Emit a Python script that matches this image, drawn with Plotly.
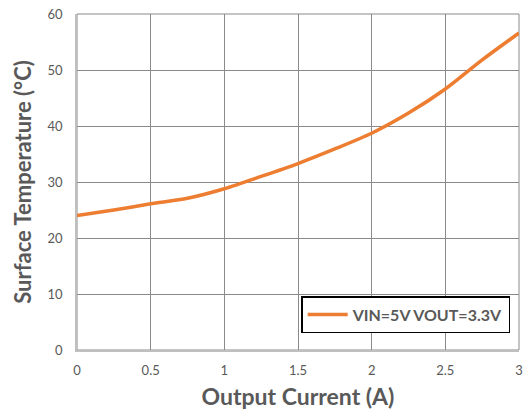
import plotly.graph_objects as go

# Surface temperature vs. output current, VIN=5V VOUT=3.3V
current_a = [0, 0.25, 0.5, 0.75, 1.0, 1.25, 1.5, 1.75, 2.0, 2.25, 2.5, 2.75, 3.0]
temp_c = [24.0, 25.0, 26.1, 27.1, 28.8, 31.0, 33.3, 35.9, 38.7, 42.3, 46.6, 51.8, 56.6]
series_name = "VIN=5V VOUT=3.3V"

x_ticks = [0, 0.5, 1, 1.5, 2, 2.5, 3]
x_tick_text = ["0", "0.5", "1", "1.5", "2", "2.5", "3"]
y_ticks = [0, 10, 20, 30, 40, 50, 60]

font_family = "Lato, 'Open Sans', sans-serif"
text_color = "#595959"
grid_color = "#8a8a8a"

fig = go.Figure()
fig.add_trace(go.Scatter(
    x=current_a, y=temp_c, mode="lines", name=series_name,
    line=dict(color="#ED7D31", width=3.5, shape="spline", smoothing=0.8),
))

fig.update_layout(
    width=529, height=420,
    margin=dict(l=77, r=6, t=14, b=70),
    paper_bgcolor="white", plot_bgcolor="white",
    font=dict(family=font_family, color=text_color),
    showlegend=True,
    legend=dict(
        x=0.98, y=0.05, xanchor="right", yanchor="bottom",
        bgcolor="white", bordercolor="black", borderwidth=1.5,
        font=dict(size=16, color=text_color, family=font_family, weight="bold"),
        itemwidth=40,
    ),
    xaxis=dict(
        range=[0, 3], tickvals=x_ticks, ticktext=x_tick_text,
        showgrid=True, gridcolor=grid_color, gridwidth=1,
        showline=True, linecolor="#bfbfbf", linewidth=1.5, mirror=False,
        zeroline=False, ticks="", ticklabelstandoff=8,
        tickfont=dict(size=13, color=text_color),
        title=dict(text="Output Current (A)", standoff=12,
                   font=dict(size=23, color=text_color, weight="bold")),
    ),
    yaxis=dict(
        range=[0, 60], tickvals=y_ticks,
        showgrid=True, gridcolor=grid_color, gridwidth=1,
        showline=True, linecolor="#bfbfbf", linewidth=1.5,
        zeroline=False, ticks="", ticklabelstandoff=10,
        tickfont=dict(size=13, color=text_color),
        title=dict(text="Surface Temperature (°C)", standoff=10,
                   font=dict(size=22, color=text_color, weight="bold")),
    ),
)

# Top and right border of the plot area in gridline grey
fig.add_shape(type="rect", xref="paper", yref="paper", x0=0, y0=0, x1=1, y1=1,
              line=dict(color=grid_color, width=1), fillcolor="rgba(0,0,0,0)", layer="below")

fig.write_html("out.html")
